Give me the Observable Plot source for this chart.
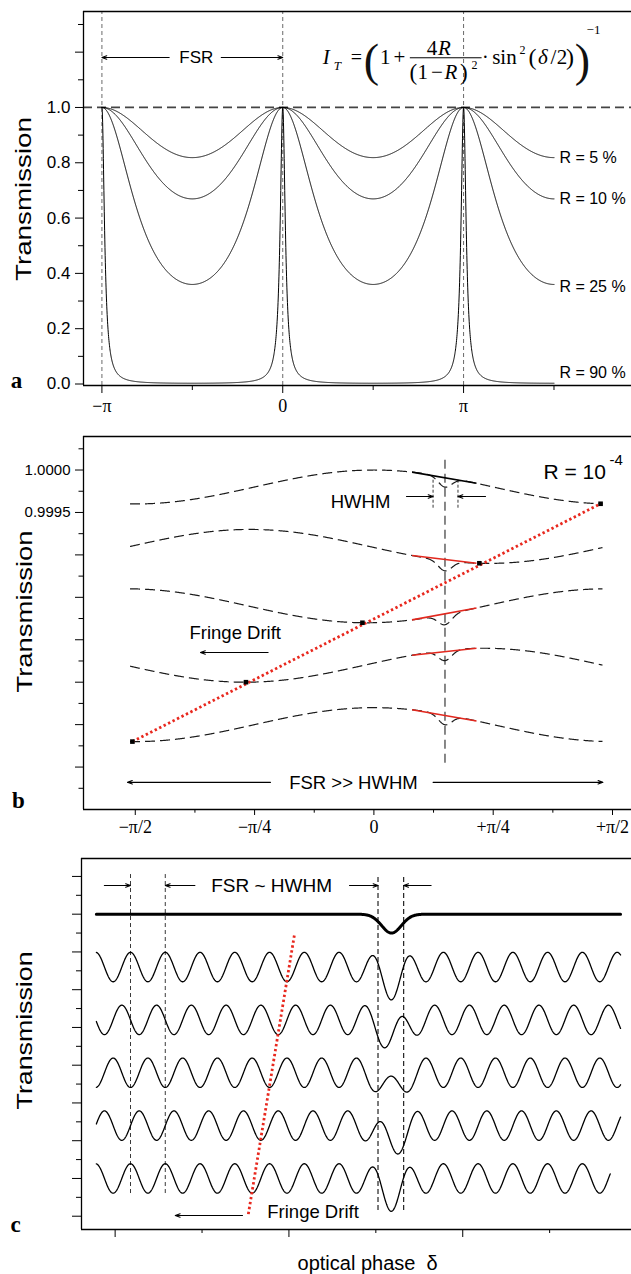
<!DOCTYPE html>
<html><head><meta charset="utf-8">
<script src="https://cdn.jsdelivr.net/npm/d3@7"></script>
<script src="https://cdn.jsdelivr.net/npm/@observablehq/plot@0.6"></script>
<style>
body{margin:0;background:#fff;}
#chart{width:631px;}
#chart svg{display:block;}
</style></head><body><div id="chart"></div>
<script>
const sans = "'Liberation Sans', Arial, Helvetica, sans-serif";
const serif = "'Liberation Serif', 'Times New Roman', serif";

// ---------------- Panel a data ----------------
const reflectivities = [0.05, 0.10, 0.25, 0.90];
const reflLabels = ["R = 5 %", "R = 10 %", "R = 25 %", "R = 90 %"];
const reflLabelY = [0.819, 0.671, 0.353, 0.042];
const aPhaseStart = -1, aPhaseEnd = 1.5;           // units of π
const aXTicks = [-1, 0, 1];
const aXTickLabels = ["−π", "0", "π"];
const aXMinor = [-0.5, 0.5, 1.5];
const aYMajor = [0, 0.2, 0.4, 0.6, 0.8, 1.0, 1.2];
const aYMajorLabels = ["0.0", "0.2", "0.4", "0.6", "0.8", "1.0", ""];
const aYMinor = [0.1, 0.3, 0.5, 0.7, 0.9, 1.1, 1.3];
const aPeaks = [-1, 0, 1];

// ---------------- Panel b data ----------------
const fringeCenters = [0.9998, 0.9991, 0.9984, 0.9977, 0.9970];
const fringeMinima = [0.5, 0.24, -0.015, -0.27, -0.5];  // units of π
const fringeAmp = 0.0002;
const fringeRange = [-0.511, 0.479];
const bDip = {center: 0.149, depth: 0.00012, width: 0.02};
const markerX = [0.475, 0.221, -0.024, -0.268, -0.506];
const chordX = [0.08, 0.215];
const chordColors = ["black", "#e2281e", "#e2281e", "#e2281e", "#e2281e"];
const bXTicks = [-0.5, -0.25, 0, 0.25, 0.5];
const bXTickLabels = ["−π/2", "−π/4", "0", "+π/4", "+π/2"];
const bXMinor = [-0.375, -0.125, 0.125, 0.375];
const bYMajor = [0.9965, 0.9970, 0.9975, 0.9980, 0.9985, 0.9990, 0.9995, 1.0000];
const bYMajorLabels = ["", "", "", "", "", "", "0.9995", "1.0000"];
const bYMinor = [0.99625, 0.99675, 0.99725, 0.99775, 0.99825, 0.99875, 0.99925, 0.99975, 1.00025];

// ---------------- Panel c data ----------------
const combCenters = [6.6, 5.2, 3.8, 2.4, 1.0];
const combFirstPeak = 0.177, combPeriod = 0.4, combStep = -0.1, combAmp = 0.39;
const combStart = -0.216;
const combEnds = [5.816, 5.816, 5.816, 5.816, 5.697];
const cDip = {center: 3.18, depth: 0.48, width: 0.16};
const cTopLevel = 8.0, cTopDip = 0.5;
const cXMajor = [0, 2, 4];
const cXMinor = [1, 3, 5];
const cYMajor = [0, 1, 2, 3, 4, 5, 6, 7, 8, 9];
const cYMinor = [0.5, 1.5, 2.5, 3.5, 4.5, 5.5, 6.5, 7.5, 8.5];

// ---------------- helpers ----------------
const airy = (R, x) => 1 / (1 + 4 * R / ((1 - R) ** 2) * Math.sin(Math.PI * x) ** 2);
const fringe = (k, x) => fringeCenters[k] - fringeAmp * Math.cos(2 * Math.PI * (x - fringeMinima[k]))
  - bDip.depth * Math.exp(-(((x - bDip.center) / bDip.width) ** 2));
const comb = (k, x) => combCenters[k] + combAmp * Math.cos(2 * Math.PI * (x - combFirstPeak - k * combStep) / combPeriod)
  - cDip.depth * Math.exp(-(((x - cDip.center) / cDip.width) ** 2));
const topLine = x => cTopLevel - cTopDip * Math.exp(-(((x - cDip.center) / cDip.width) ** 2));
const grid = (a, b, n) => d3.range(n + 1).map(i => a + (b - a) * i / n);

function arrows(data, extra = {}) {
  return Plot.arrow(data, {x1: "x1", x2: "x2", y1: "y", y2: "y", stroke: "black", strokeWidth: 1.1,
    headLength: 7, headAngle: 40, ...extra});
}
function stretchLabels(svg, len) {
  d3.select(svg).selectAll("text").filter(function () { return this.textContent === "Transmission"; })
    .attr("textLength", len).attr("lengthAdjust", "spacingAndGlyphs");
}
const redDots = {stroke: "#e8281e", strokeWidth: 2.8, strokeDasharray: "2.4,2.6", strokeLinecap: "butt"};
const chart = document.getElementById("chart");

// ================= Panel a =================
{
  const xd = [-1.1018, 1.9286], yd = [-0.0054, 1.347];
  const curves = reflectivities.flatMap((R, k) =>
    grid(aPhaseStart, aPhaseEnd, 2500).map(x => ({x, y: airy(R, x), k})));
  const labels = reflLabels.map((t, k) => ({x: 1.53, y: reflLabelY[k], t}));
  const formula = [
    {x: 0.2407, y: 1.1808, t: "I", s: 21, i: true},
    {x: 0.3016, y: 1.1519, t: "T", s: 13, i: true},
    {x: 0.4067, y: 1.1808, t: "=", s: 20},
    {x: 0.5672, y: 1.1808, t: "1", s: 21},
    {x: 0.6447, y: 1.1808, t: "+", s: 21},
    {x: 0.8257, y: 1.2152, t: "4", s: 21},
    {x: 0.8938, y: 1.2152, t: "R", s: 21, i: true},
    {x: 0.7222, y: 1.1266, t: "(", s: 23},
    {x: 0.7747, y: 1.1266, t: "1", s: 21},
    {x: 0.8522, y: 1.1266, t: "−", s: 21},
    {x: 0.9297, y: 1.1266, t: "R", s: 21, i: true},
    {x: 1.0017, y: 1.1266, t: ")", s: 23},
    {x: 1.0598, y: 1.1519, t: "2", s: 12},
    {x: 1.1206, y: 1.1808, t: "·", s: 20},
    {x: 1.2258, y: 1.1808, t: "sin", s: 21},
    {x: 1.3254, y: 1.2061, t: "2", s: 12},
    {x: 1.3808, y: 1.1808, t: "(", s: 24},
    {x: 1.4389, y: 1.1808, t: "δ", s: 21, i: true},
    {x: 1.4970, y: 1.1808, t: "/", s: 21},
    {x: 1.5440, y: 1.1808, t: "2", s: 21},
    {x: 1.5885, y: 1.1808, t: ")", s: 24},
    {x: 1.7184, y: 1.2821, t: "−1", s: 13}
  ];
  const bigParens = [
    {x: 0.4898, y: 1.168, t: "("},
    {x: 1.6575, y: 1.168, t: ")"}
  ];
  const svg = Plot.plot({
    width: 631, height: 430,
    marginLeft: 83, marginRight: 0, marginTop: 11, marginBottom: 45,
    x: {domain: xd}, y: {domain: yd},
    style: {fontFamily: sans, fontSize: "16px", background: "transparent", color: "black"},
    marks: [
      Plot.ruleX(aPeaks, {y1: yd[0], y2: yd[1], stroke: "#444", strokeWidth: 0.8, strokeDasharray: "4,3"}),
      Plot.ruleY([{y: 1, x1: xd[0], x2: xd[1]}], {y: "y", x1: "x1", x2: "x2", stroke: "#444", strokeWidth: 1.8, strokeDasharray: "9,5"}),
      Plot.line(curves, {x: "x", y: "y", z: "k", stroke: "black", strokeWidth: 1}),
      Plot.ruleY([{y: yd[1], x1: xd[0], x2: xd[1]}], {y: "y", x1: "x1", x2: "x2", stroke: "black", strokeWidth: 1.3}),
      Plot.ruleY([{y: yd[0], x1: xd[0], x2: xd[1]}], {y: "y", x1: "x1", x2: "x2", stroke: "black", strokeWidth: 1.3}),
      Plot.ruleX([{x: xd[0], y1: yd[0], y2: yd[1]}], {x: "x", y1: "y1", y2: "y2", stroke: "black", strokeWidth: 1.3}),
      Plot.axisY({ticks: aYMajor, tickSize: 8, tickPadding: 5, label: null, fontSize: 17,
        tickFormat: d => aYMajorLabels[aYMajor.indexOf(d)]}),
      Plot.axisY({ticks: aYMinor, tickSize: 5, label: null, tickFormat: () => ""}),
      Plot.axisX({ticks: aXTicks, tickSize: 8, tickPadding: 6, label: null, fontSize: 18, fontFamily: serif,
        tickFormat: d => aXTickLabels[aXTicks.indexOf(d)]}),
      Plot.axisX({ticks: aXMinor, tickSize: 5, label: null, tickFormat: () => ""}),
      Plot.text(labels, {x: "x", y: "y", text: "t", textAnchor: "start", fontSize: 16}),
      arrows([{x1: -0.628, x2: -1, y: 1.1808}, {x1: -0.34, x2: 0, y: 1.1808}]),
      Plot.text([{x: -0.478, y: 1.1808, t: "FSR"}], {x: "x", y: "y", text: "t", fontSize: 17}),
      Plot.text(formula.filter(d => !d.i), {x: "x", y: "y", text: "t", fontSize: "s", fontFamily: serif}),
      Plot.text(formula.filter(d => d.i), {x: "x", y: "y", text: "t", fontSize: "s", fontFamily: serif, fontStyle: "italic"}),
      Plot.text(bigParens, {x: "x", y: "y", text: "t", fontSize: 46, fontFamily: serif, fill: "#111"}),
      Plot.ruleY([{y: 1.1797, x1: 0.7056, x2: 1.1024}], {y: "y", x1: "x1", x2: "x2", stroke: "black", strokeWidth: 1}),
      Plot.text([{x: -1.4306, y: 0.669, t: "Transmission"}], {x: "x", y: "y", text: "t", rotate: -90, fontSize: 22}),
      Plot.text([{x: -1.472, y: 0.012, t: "a"}], {x: "x", y: "y", text: "t", fontSize: 23, fontWeight: "bold", fontFamily: serif})
    ]
  });
  stretchLabels(svg, 164);
  chart.appendChild(svg);
}

// ================= Panel b =================
{
  const xd = [-0.6085, 0.5398], yd = [0.99600, 1.000395];
  const curves = fringeCenters.flatMap((c, k) =>
    grid(fringeRange[0], fringeRange[1], 1000).map(x => ({x, y: fringe(k, x), k})));
  const markers = markerX.map((x, k) => ({x, y: fringe(k, x)}));
  const chords = fringeCenters.map((c, k) => ({
    x1: chordX[0], y1: fringe(k, chordX[0]), x2: chordX[1], y2: fringe(k, chordX[1]), color: chordColors[k]}));
  const redLine = [markers[4], markers[0]];
  const svg = Plot.plot({
    width: 631, height: 415,
    marginLeft: 83, marginRight: 0, marginTop: 6, marginBottom: 36,
    x: {domain: xd}, y: {domain: yd},
    style: {fontFamily: sans, fontSize: "16px", background: "transparent", color: "black"},
    marks: [
      Plot.ruleX([{x: bDip.center, y1: 0.996545, y2: 1.000136}], {x: "x", y1: "y1", y2: "y2", stroke: "#111", strokeWidth: 1, strokeDasharray: "9,5"}),
      Plot.ruleX([{x: 0.124}, {x: 0.1762}], {x: "x", y1: 0.99955, y2: 0.9999, stroke: "#222", strokeWidth: 0.9, strokeDasharray: "3,2"}),
      Plot.line(curves, {x: "x", y: "y", z: "k", stroke: "#1a1a1a", strokeWidth: 1.2, strokeDasharray: "10,5", strokeLinecap: "butt"}),
      Plot.link(chords, {x1: "x1", y1: "y1", x2: "x2", y2: "y2", stroke: "color", strokeWidth: 1.6}),
      Plot.line(redLine, {x: "x", y: "y", ...redDots}),
      Plot.dot(markers, {x: "x", y: "y", symbol: "square", r: 2.6, fill: "black", stroke: null}),
      Plot.ruleY([{y: yd[1], x1: xd[0], x2: xd[1]}], {y: "y", x1: "x1", x2: "x2", stroke: "black", strokeWidth: 1.3}),
      Plot.ruleY([{y: yd[0], x1: xd[0], x2: xd[1]}], {y: "y", x1: "x1", x2: "x2", stroke: "black", strokeWidth: 1.3}),
      Plot.ruleX([{x: xd[0], y1: yd[0], y2: yd[1]}], {x: "x", y1: "y1", y2: "y2", stroke: "black", strokeWidth: 1.3}),
      Plot.axisY({ticks: bYMajor, tickSize: 8, tickPadding: 5, label: null, fontSize: 15,
        tickFormat: d => bYMajorLabels[bYMajor.indexOf(d)]}),
      Plot.axisY({ticks: bYMinor, tickSize: 4.5, label: null, tickFormat: () => ""}),
      Plot.axisX({ticks: bXTicks, tickSize: 6, tickPadding: 5, label: null, fontSize: 18, fontFamily: serif,
        tickFormat: d => bXTickLabels[bXTicks.indexOf(d)]}),
      Plot.axisX({ticks: bXMinor, tickSize: 3.7, label: null, tickFormat: () => ""}),
      Plot.text([{x: 0.3554, y: 0.99997, t: "R = 10"}], {x: "x", y: "y", text: "t", textAnchor: "start", fontSize: 21}),
      Plot.text([{x: 0.4937, y: 1.000112, t: "-4"}], {x: "x", y: "y", text: "t", textAnchor: "start", fontSize: 15}),
      Plot.text([{x: -0.028, y: 0.999617, t: "HWHM"}], {x: "x", y: "y", text: "t", fontSize: 18.5}),
      arrows([{x1: 0.0683, x2: 0.124, y: 0.999688}, {x1: 0.2339, x2: 0.1762, y: 0.999688}]),
      Plot.text([{x: -0.3864, y: 0.998074, t: "Fringe Drift"}], {x: "x", y: "y", text: "t", textAnchor: "start", fontSize: 18.5}),
      arrows([{x1: -0.2217, x2: -0.3634, y: 0.99785}]),
      Plot.text([{x: -0.0428, y: 0.996307, t: "FSR >> HWHM"}], {x: "x", y: "y", text: "t", fontSize: 18.5}),
      arrows([{x1: -0.2167, x2: -0.5164, y: 0.99632}, {x1: 0.124, x2: 0.4799, y: 0.99632}]),
      Plot.text([{x: -0.7322, y: 0.998333, t: "Transmission"}], {x: "x", y: "y", text: "t", rotate: -90, fontSize: 22}),
      Plot.text([{x: -0.745, y: 0.996107, t: "b"}], {x: "x", y: "y", text: "t", fontSize: 23, fontWeight: "bold", fontFamily: serif})
    ]
  });
  stretchLabels(svg, 162);
  chart.appendChild(svg);
}

// ================= Panel c =================
{
  const xd = [-0.387, 5.942], yd = [-0.352, 9.475];
  const curves = combCenters.flatMap((c, k) =>
    grid(combStart, combEnds[k], 1200).map(x => ({x, y: comb(k, x), k})));
  const top = grid(combStart, combEnds[0], 1200).map(x => ({x, y: topLine(x)}));
  const svg = Plot.plot({
    width: 631, height: 429,
    marginLeft: 81, marginRight: 0, marginTop: 13, marginBottom: 45,
    x: {domain: xd}, y: {domain: yd},
    style: {fontFamily: sans, fontSize: "16px", background: "transparent", color: "black"},
    marks: [
      Plot.ruleX([{x: 0.177}, {x: 0.577}], {x: "x", y1: 0.601, y2: 9.05, stroke: "#222", strokeWidth: 0.9, strokeDasharray: "4,3"}),
      Plot.ruleX([{x: 3.025}, {x: 3.32}], {x: "x", y1: 0.151, y2: 9.05, stroke: "#222", strokeWidth: 1.2, strokeDasharray: "5,3"}),
      Plot.line(top, {x: "x", y: "y", stroke: "black", strokeWidth: 3}),
      Plot.line(curves, {x: "x", y: "y", z: "k", stroke: "black", strokeWidth: 1.3}),
      Plot.line([{x: 2.062, y: 7.436}, {x: 1.529, y: 0.0}], {x: "x", y: "y", ...redDots}),
      Plot.ruleY([{y: yd[1], x1: xd[0], x2: xd[1]}], {y: "y", x1: "x1", x2: "x2", stroke: "black", strokeWidth: 1.3}),
      Plot.ruleY([{y: yd[0], x1: xd[0], x2: xd[1]}], {y: "y", x1: "x1", x2: "x2", stroke: "black", strokeWidth: 1.3}),
      Plot.ruleX([{x: xd[0], y1: yd[0], y2: yd[1]}], {x: "x", y1: "y1", y2: "y2", stroke: "black", strokeWidth: 1.3}),
      Plot.axisY({ticks: cYMajor, tickSize: 9, label: null, tickFormat: () => ""}),
      Plot.axisY({ticks: cYMinor, tickSize: 5, label: null, tickFormat: () => ""}),
      Plot.axisX({ticks: cXMajor, tickSize: 8, label: null, tickFormat: () => ""}),
      Plot.axisX({ticks: cXMinor, tickSize: 4, label: null, tickFormat: () => ""}),
      Plot.text([{x: 1.80, y: 8.76, t: "FSR ~ HWHM"}], {x: "x", y: "y", text: "t", fontSize: 19}),
      arrows([{x1: -0.124, x2: 0.177, y: 8.76}, {x1: 0.918, x2: 0.577, y: 8.76},
              {x1: 2.697, x2: 3.025, y: 8.76}, {x1: 3.636, x2: 3.32, y: 8.76}]),
      Plot.text([{x: 1.751, y: 0.1, t: "Fringe Drift"}], {x: "x", y: "y", text: "t", textAnchor: "start", fontSize: 18.5}),
      arrows([{x1: 1.466, x2: 0.692, y: 0.02}]),
      Plot.text([{x: 2.905, y: -1.253, t: "optical phase  δ"}], {x: "x", y: "y", text: "t", fontSize: 20}),
      Plot.text([{x: -1.0426, y: 4.92, t: "Transmission"}], {x: "x", y: "y", text: "t", rotate: -90, fontSize: 22}),
      Plot.text([{x: -1.146, y: -0.22, t: "c"}], {x: "x", y: "y", text: "t", fontSize: 23, fontWeight: "bold", fontFamily: serif})
    ]
  });
  stretchLabels(svg, 158);
  chart.appendChild(svg);
}
</script></body></html>
